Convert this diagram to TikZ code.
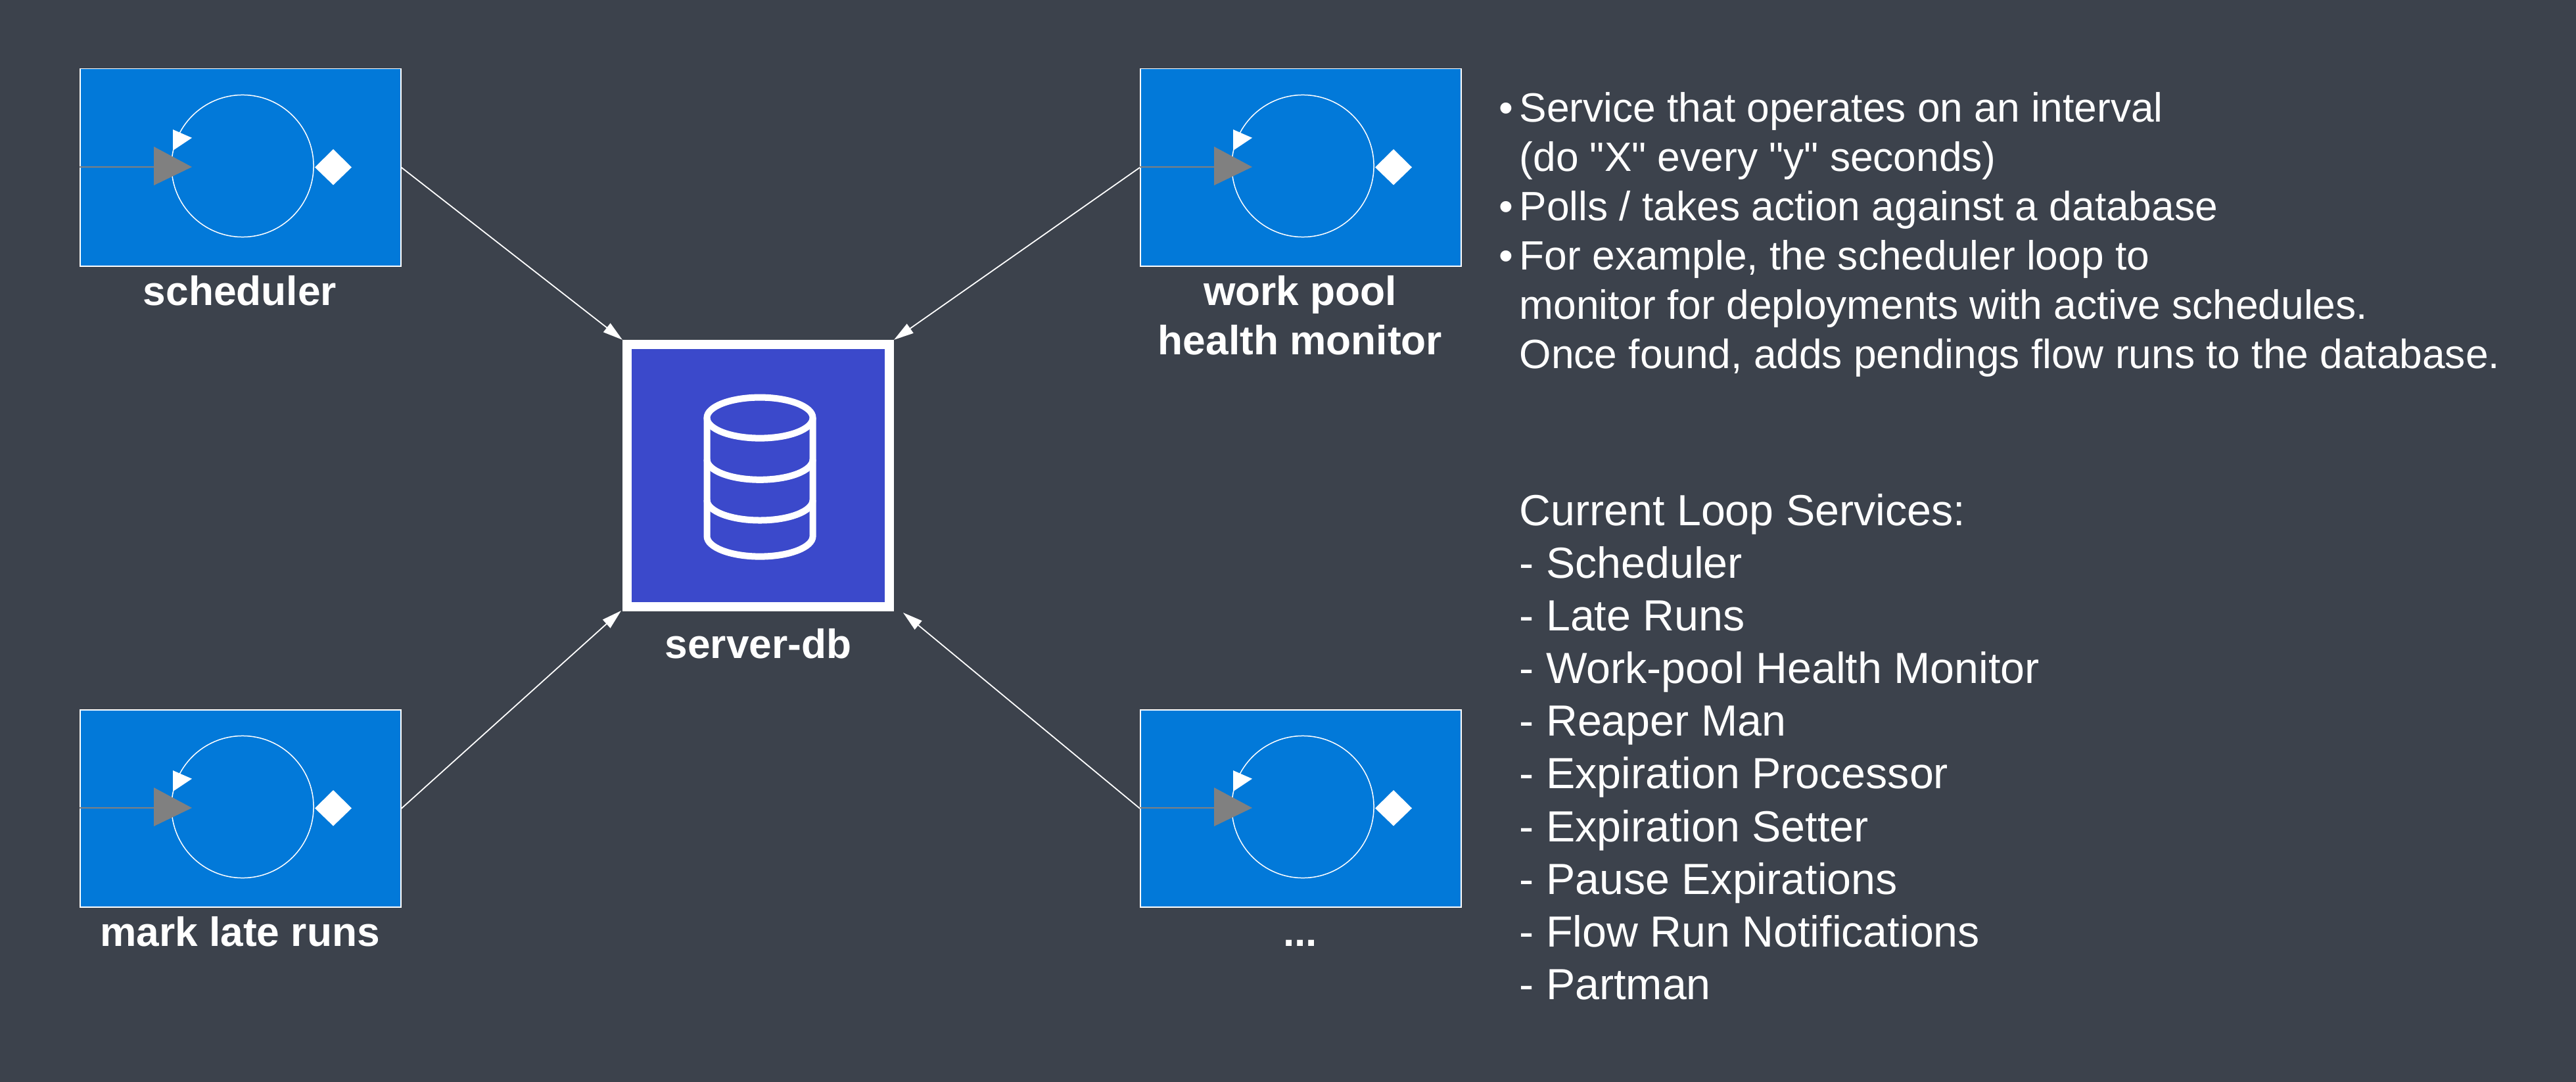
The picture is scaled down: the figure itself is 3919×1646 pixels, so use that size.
\documentclass[tikz,border=0pt]{standalone}
\usepackage{fontspec}
\setmainfont{Liberation Sans}[Ligatures=TeXOff]
\usepackage{tikz}
\usetikzlibrary{arrows.meta,positioning,calc,shadows}
\usepackage{xcolor}
\definecolor{pagebg}{HTML}{3C424C}
\definecolor{loopblue}{HTML}{0279D9}
\definecolor{dbblue}{HTML}{3B49CB}
\definecolor{loopgray}{HTML}{808080}
\newcommand{\notedot}{\llap{•\hspace{2.8pt}}}
\tikzset{
    loopbox/.style={draw=white, fill=loopblue, line width=0.015cm, minimum width=4.88cm, minimum height=3cm, inner sep=0pt, anchor=north west},
    dbbox/.style={draw=white, fill=dbblue, line width=0.145cm, minimum width=3.985cm, minimum height=3.985cm, inner sep=0pt, drop shadow={shadow xshift=0.02cm, shadow yshift=-0.02cm, opacity=0.25}},
    looplabel/.style={white, font=\fontsize{17.7}{21.3}\selectfont\bfseries, align=center, inner sep=0pt, anchor=base},
    infotext/.style={white, font=\fontsize{17.7}{21.3}\selectfont, align=left, inner sep=0pt, anchor=north west},
    listtext/.style={white, font=\fontsize{18.86}{22.76}\selectfont, align=left, inner sep=0pt, anchor=north west},
    poll/.style={draw=white, line width=0.018cm, -{Triangle[length=0.3cm,width=0.17cm]}}
}
\begin{document}
\begin{tikzpicture}[x=0.01cm,y=-0.01cm]
    \fill[pagebg] (0,0) rectangle (3919,1646);
    % loop services
    \foreach \boxname/\boxx/\boxy in {scheduler/121/104, workpool/1734/104, latemark/121/1079, othersvc/1734/1079} {
        \node[loopbox] (\boxname) at (\boxx,\boxy) {};
        \begin{scope}[shift={(\boxx,\boxy)}]
            \draw[white, line width=0.015cm] (248,148.5) circle (1.08cm);
            \draw[loopgray, line width=0.012cm] (0,150) -- (113,150);
            \fill[loopgray] (113,119) -- (171,150) -- (113,178) -- cycle;
            \fill[white] (142,93) -- (171,105.7) -- (142,125) -- cycle;
            \fill[white] (358,150.5) -- (386,123) -- (414,150.5) -- (386,177.5) -- cycle;
        \end{scope}
    }
    \node[looplabel] (schedulerlabel) at (365,464) {scheduler};
    \node[looplabel] (workpoollabel) at (1978,539) {work pool\\health monitor};
    \node[looplabel] (latemarklabel) at (365,1439) {mark late runs};
    \node[looplabel] (othersvclabel) at (1978,1439) {...};
    % database
    \node[dbbox] (db) at (1153.5,723.5) {};
    \node[looplabel] (dblabel) at (1153.5,1001) {server-db};
    \draw[white, line width=0.1cm] (1156,635.6) ellipse (0.805cm and 0.31cm);
    \draw[white, line width=0.1cm] (1075.5,635.6) -- (1075.5,815.6) arc[start angle=180, end angle=360, x radius=0.805cm, y radius=0.31cm] -- (1236.5,635.6);
    \draw[white, line width=0.1cm] (1075.5,698.8) arc[start angle=180, end angle=360, x radius=0.805cm, y radius=0.31cm];
    \draw[white, line width=0.1cm] (1075.5,760.5) arc[start angle=180, end angle=360, x radius=0.805cm, y radius=0.31cm];
    % polling arrows
    \coordinate (dbsw) at (945,929);
    \coordinate (dbse) at (1374,932);
    \draw[poll] (scheduler.east) -- (db.north west);
    \draw[poll] (workpool.west) -- (db.north east);
    \draw[poll] (latemark.east) -- (dbsw);
    \draw[poll] (othersvc.west) -- (dbse);
    % notes
    \node[infotext] (about) at (2311,140) {\notedot Service that operates on an interval\\(do "X" every "y" seconds)\\\notedot Polls / takes action against a database\\\notedot For example, the scheduler loop to\\monitor for deployments with active schedules.\\Once found, adds pendings flow runs to the database.};
    \node[listtext] (services) at (2311,751) {Current Loop Services:\\- Scheduler\\- Late Runs\\- Work-pool Health Monitor\\- Reaper Man\\- Expiration Processor\\- Expiration Setter\\- Pause Expirations\\- Flow Run Notifications\\- Partman};
\end{tikzpicture}
\end{document}
